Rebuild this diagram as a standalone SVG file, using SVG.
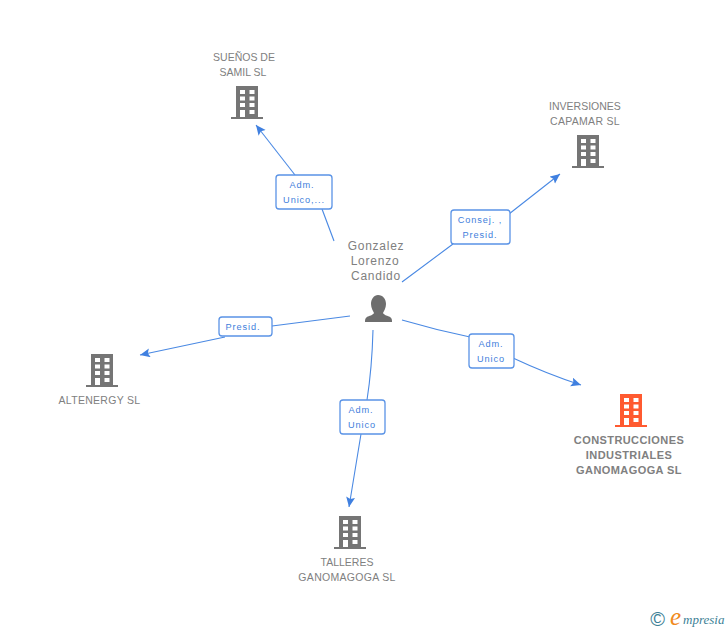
<svg xmlns="http://www.w3.org/2000/svg" width="728" height="630" viewBox="0 0 728 630">
<style>
text{font-family:"Liberation Sans",Arial,sans-serif}
.n{font-size:10.5px;fill:#808080;text-anchor:middle}
.w1{letter-spacing:.3px}
.b{font-weight:bold;font-size:11px;letter-spacing:.42px}
.p{font-size:12px;letter-spacing:.75px}
.l{font-size:9.2px;fill:#3f80dc;text-anchor:middle;letter-spacing:.9px}
.c{fill:none;stroke:#4a89e3;stroke-width:1.1}
.box{fill:#fff;stroke:#5a93e6;stroke-width:1.3}
.w{fill:#fff}
.s{font-family:"Liberation Serif",serif;font-style:italic}
</style>
<defs>
<marker id="a" markerUnits="userSpaceOnUse" markerWidth="12" markerHeight="10" refX="10" refY="4.5" orient="auto"><path d="M0 0L10 4.500L0 9L2 4.500Z" fill="#4080e0"/></marker>
<symbol id="building" viewBox="0 0 32 34" width="32" height="34" overflow="visible">
<path d="M5 0H27V31H32V33H0V31H5Z"/>
<g class="w"><rect x="9" y="4" width="5" height="4"/><rect x="18.500" y="4" width="5" height="4"/><rect x="9" y="10.500" width="5" height="4"/><rect x="18.500" y="10.500" width="5" height="4"/><rect x="9" y="17" width="5" height="4"/><rect x="18.500" y="17" width="5" height="4"/><rect x="9" y="24" width="5" height="7"/><rect x="18.500" y="24" width="5" height="4"/></g>
</symbol>
</defs>
<g id="connectors">
<path class="c" d="M334 241L322 209"/>
<path class="c" d="M295 175L256 125" marker-end="url(#a)"/>
<path class="c" d="M402 282L453 244M509 214L560 174" marker-end="url(#a)"/>
<path class="c" d="M350 316L272 326M225 337L140 355" marker-end="url(#a)"/>
<path class="c" d="M402 320Q436 330 470 337M513 358Q547 374 581 385" marker-end="url(#a)"/>
<path class="c" d="M373 330Q372 368 367 400M361 434L349 507" marker-end="url(#a)"/>
</g>
<g id="label-suenos"><rect class="box" x="276" y="175" width="56" height="34" rx="3"/><text class="l" x="302" y="188">Adm.</text><text class="l" x="304" y="203">Unico,...</text></g>
<g id="label-capamar"><rect class="box" x="451" y="210" width="59" height="34" rx="3"/><text class="l" x="480" y="223">Consej. ,</text><text class="l" x="480" y="238">Presid.</text></g>
<g id="label-altenergy"><rect class="box" x="219" y="317" width="53" height="19" rx="3"/><text class="l" x="243" y="330">Presid.</text></g>
<g id="label-construcciones"><rect class="box" x="469" y="334" width="45" height="34" rx="3"/><text class="l" x="491" y="347">Adm.</text><text class="l" x="491" y="362">Unico</text></g>
<g id="label-talleres"><rect class="box" x="340" y="400" width="45" height="34" rx="3"/><text class="l" x="361" y="413">Adm.</text><text class="l" x="362" y="428">Unico</text></g>
<g id="person"><text class="n p" x="376" y="250">Gonzalez</text><text class="n p" x="375" y="265">Lorenzo</text><text class="n p" x="376" y="280">Candido</text>
<path fill="#6e6e6e" d="M378 295C383 295 386 299 386 304C386 308 384 311 383 313C384 315 388 316 390 317C392 318 392 320 392 322H365C365 320 365 318 367 317C369 316 373 315 374 313C373 311 371 308 371 304C371 299 374 295 378 295Z"/></g>
<g id="suenos" fill="#757575"><text class="n" x="244" y="61">SUEÑOS DE</text><text class="n" x="243" y="76">SAMIL SL</text><use href="#building" x="231" y="86"/></g>
<g id="capamar" fill="#757575"><text class="n" x="585" y="110">INVERSIONES</text><text class="n w1" x="585" y="125">CAPAMAR SL</text><use href="#building" x="572" y="135"/></g>
<g id="altenergy" fill="#757575"><use href="#building" x="86" y="354"/><text class="n w1" x="99.500" y="404">ALTENERGY SL</text></g>
<g id="construcciones" fill="#ff5a30"><use href="#building" x="615" y="394"/><text class="n b" x="629" y="444">CONSTRUCCIONES</text><text class="n b" x="629" y="459">INDUSTRIALES</text><text class="n b" x="629" y="474">GANOMAGOGA SL</text></g>
<g id="talleres" fill="#757575"><use href="#building" x="334" y="516"/><text class="n" x="347" y="566">TALLERES</text><text class="n w1" x="347" y="581">GANOMAGOGA SL</text></g>
<g id="logo"><text x="657.500" y="626" font-size="20" fill="#3d7f96" text-anchor="middle">©</text><text class="s" x="670" y="625" font-size="25" fill="#f08a1d">e</text><text class="s" x="683" y="624" font-size="13" fill="#3d7f96">mpresia</text></g>
</svg>
